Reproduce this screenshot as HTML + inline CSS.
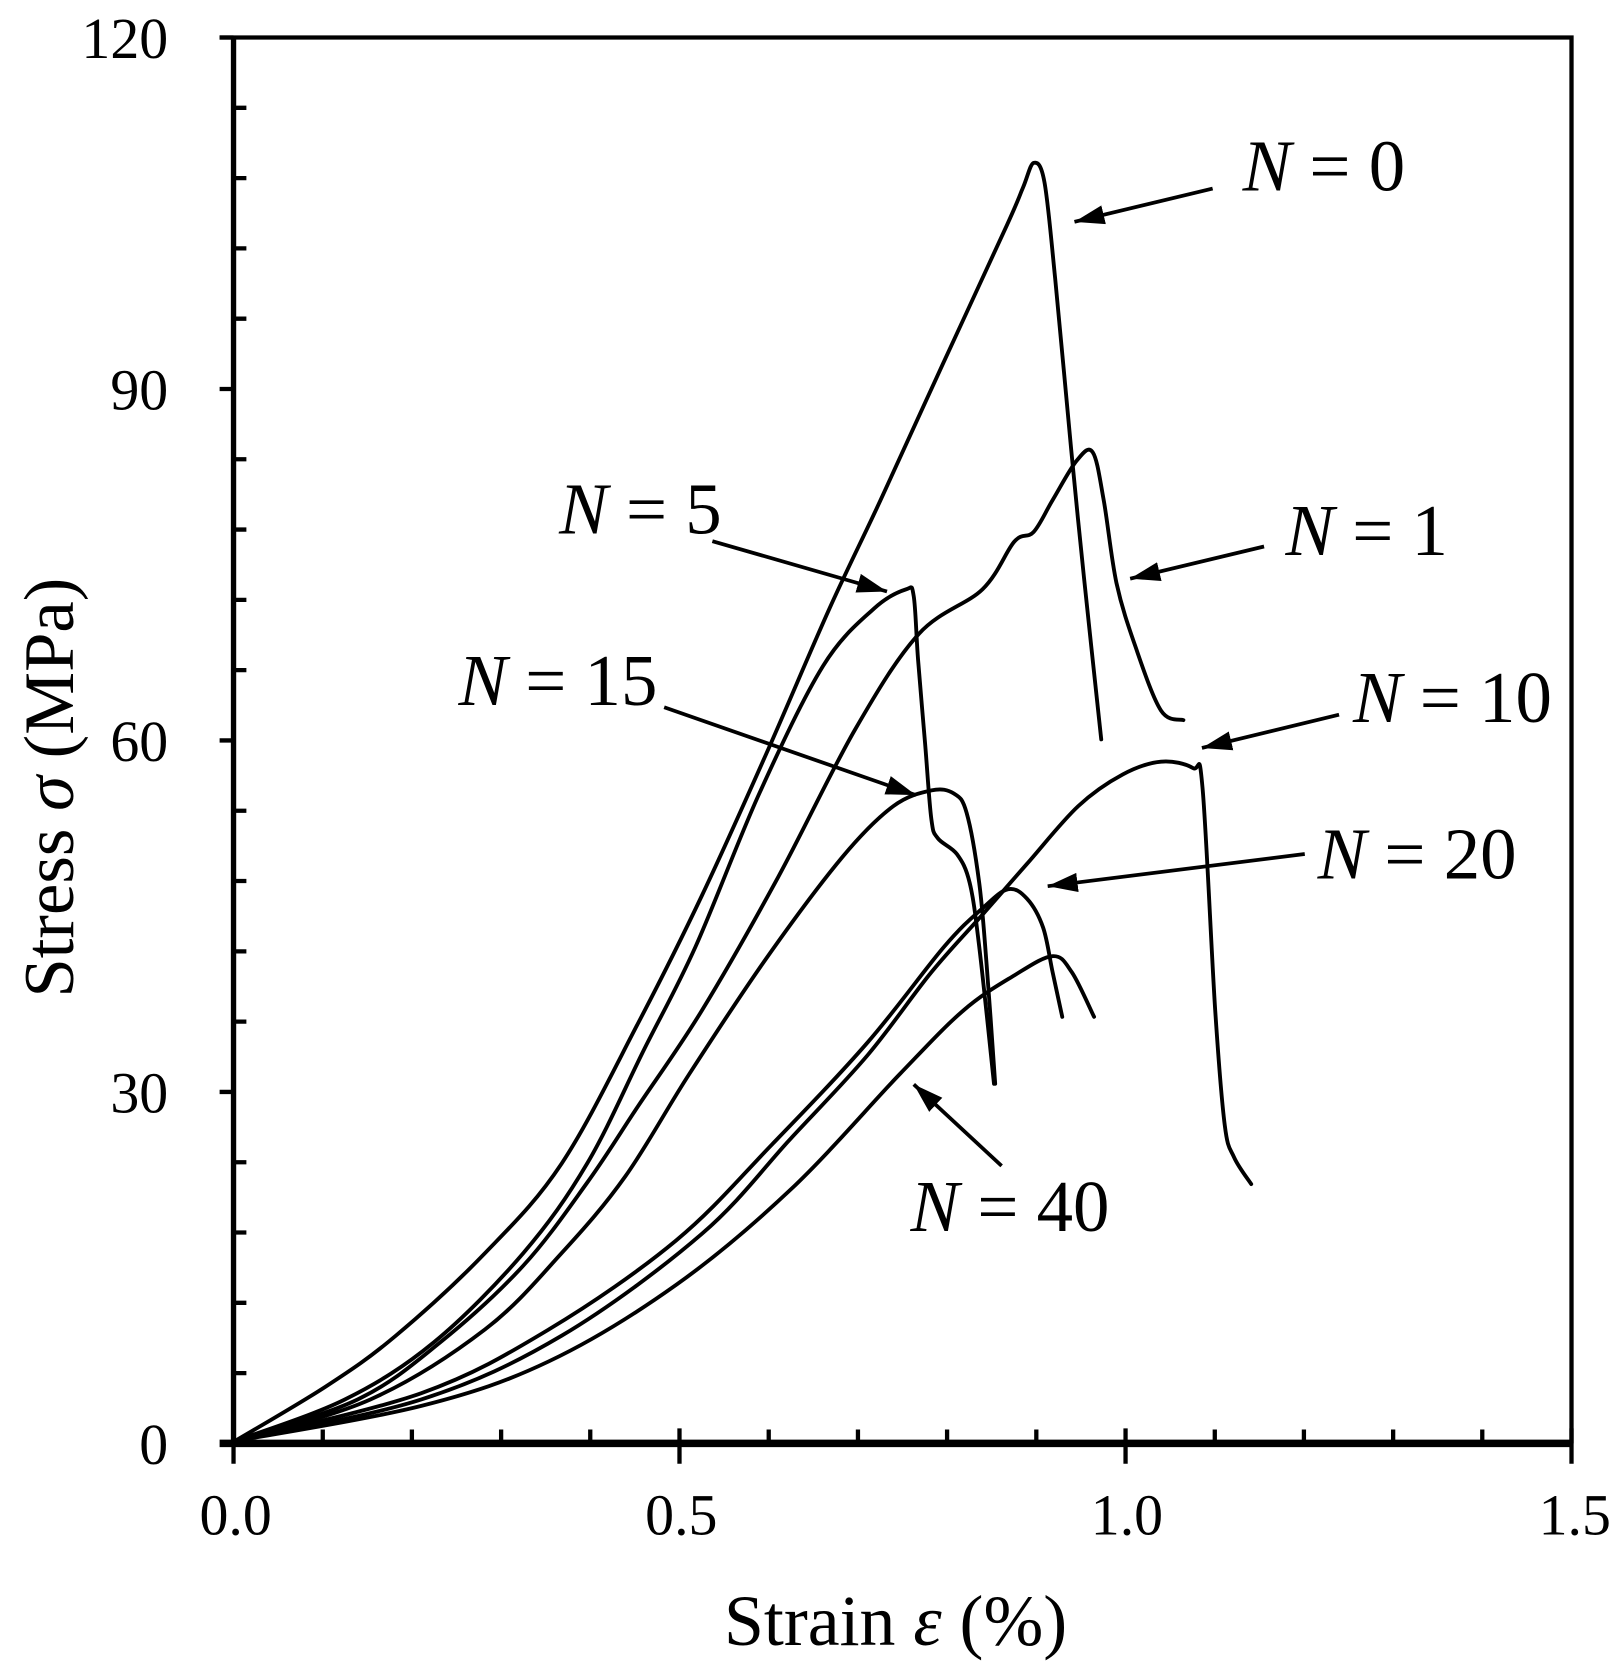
<!DOCTYPE html>
<html><head><style>html,body{margin:0;padding:0;background:#fff}svg{display:block}</style></head>
<body>
<svg id="s" width="1624" height="1677" viewBox="0 0 1516 1565" preserveAspectRatio="none" xmlns="http://www.w3.org/2000/svg" font-family="Liberation Serif, serif">
<defs>
<marker id="a" viewBox="0 0 10 10" refX="10" refY="5" markerWidth="28" markerHeight="18" markerUnits="userSpaceOnUse" orient="auto" preserveAspectRatio="none"><path d="M0,0 L10,5 L0,10 z" fill="#000"/></marker></defs>
<g stroke="#000" fill="none">
<path d="M205,35 H1467 V1347" stroke-width="4"/>
<path d="M218,35 V1347" stroke-width="5"/>
<path d="M205,1347 H1467" stroke-width="7"/>
<g stroke-width="4">
<path d="M205,35H218M205,363H218M205,691H218M205,1019H218"/>
<path d="M218,100.6h12M218,166.2h12M218,231.8h12M218,297.4h12M218,428.6h12M218,494.2h12M218,559.8h12M218,625.4h12M218,756.6h12M218,822.2h12M218,887.8h12M218,953.4h12M218,1084.6h12M218,1150.2h12M218,1215.8h12M218,1281.4h12"/>
<path d="M218,1333V1366M634.3,1333V1366M1050.7,1333V1366M1467,1333V1366"/>
<path d="M301.3,1347v-13M384.5,1347v-13M467.8,1347v-13M551,1347v-13M717.6,1347v-13M800.9,1347v-13M884.1,1347v-13M967.4,1347v-13M1134,1347v-13M1217.2,1347v-13M1300.5,1347v-13M1383.7,1347v-13"/>
</g>
<g id="curves" stroke-width="3.6" stroke-linejoin="round" stroke-linecap="round">
<path d="M219,1345 L304,1294 L369.5,1246.5 L452.8,1169.4 L524.3,1085.8 L595.7,954.8 L655.2,835.8 L714.7,704.8 L774.3,567.9 L822,466.7 L880,340 L940,210 L955,175 L965,152 L975,170 L985,260 L1000,420 L1012,540 L1028,690"/>
<path d="M219,1345 L321.9,1306 L405.2,1252.5 L488.5,1169.4 L548.1,1085.8 L601.6,978.7 L649.3,883.4 L708.8,740.5 L768.3,621.5 L815.9,567.9 L845.7,550 L852.9,556 L857,615.5 L863.5,693 L869.4,764.3 L875.4,782.2 L893.3,797.1 L905.2,823.9 L914.1,883.4 L927.9,1011.4"/>
<path d="M219,1345 L333.8,1306 L411.2,1252.5 L488.5,1181.1 L548.1,1103.7 L595.7,1032.2 L655.2,943 L726.7,818 L798.1,681 L857.6,591.7 L917.1,550 L946.9,505.4 L964.8,496.5 L982.6,466.7 L1005,430 L1020,422 L1030.3,466.7 L1042.2,544 L1060,603.6 L1083.8,663.1 L1104.7,672"/>
<path d="M219,1345 L345.7,1306 L452.8,1240.6 L524.3,1169.4 L583.8,1097.7 L643.3,1002.5 L714.7,895.3 L786.2,800 L833.8,752.4 L869.5,737.6 L890.4,740.5 L902.3,758.4 L914.1,823.9 L921,900 L929,1011.4"/>
<path d="M219,1345 L393.3,1300.1 L512.4,1240.6 L631.4,1157.4 L720.7,1068 L810,972.7 L881.4,883.4 L917.1,847.7 L941,829.8 L958.8,838.8 L973.7,865.5 L982.6,907.2 L991.6,948.9"/>
<path d="M219,1345 L393.3,1306 L524.3,1246.5 L655.2,1151.4 L738.6,1062 L810,984.6 L869.5,907.2 L917.1,853.6 L958.8,806 L1006.4,752.4 L1048.1,722.7 L1083.8,710.8 L1113.5,716.7 L1122.5,734.6 L1134.4,943 L1143.3,1050 L1152,1080 L1168,1105"/>
<path d="M219,1345 L393.3,1312 L512.4,1270.4 L631.4,1198.9 L738.6,1109.6 L839.8,1002.5 L899.3,943 L946.9,910.2 L982.6,892.3 L1000.5,907.2 L1021.3,948.9"/>
</g>
<g stroke-width="3.5" marker-end="url(#a)">
<path d="M1132,176 L1003,207"/>
<path d="M1180,510 L1055,540"/>
<path d="M665,505 L828,552"/>
<path d="M620,660 L855,742"/>
<path d="M1250,667 L1122,698"/>
<path d="M1218,797 L978,827"/>
<path d="M935,1088 L853,1012"/>
</g>
</g>
<g font-size="54" fill="#000" text-anchor="end">
<text x="157" y="54">120</text><text x="157" y="382">90</text><text x="157" y="710">60</text><text x="157" y="1038">30</text><text x="157" y="1366">0</text>
</g>
<g font-size="54" fill="#000" text-anchor="middle">
<text x="220" y="1432">0.0</text><text x="636" y="1432">0.5</text><text x="1052" y="1432">1.0</text><text x="1470" y="1432">1.5</text>
<text x="836" y="1535" font-size="67">Strain <tspan font-style="italic">ε</tspan> (%)</text>
<text transform="translate(68,735) rotate(-90)" font-size="66">Stress <tspan font-style="italic">σ</tspan> (MPa)</text>
</g>
<g font-size="68" fill="#000">
<text x="1160" y="178"><tspan font-style="italic">N</tspan> = 0</text>
<text x="1200" y="518"><tspan font-style="italic">N</tspan> = 1</text>
<text x="522" y="498"><tspan font-style="italic">N</tspan> = 5</text>
<text x="428" y="658"><tspan font-style="italic">N</tspan> = 15</text>
<text x="1263" y="674"><tspan font-style="italic">N</tspan> = 10</text>
<text x="1230" y="820"><tspan font-style="italic">N</tspan> = 20</text>
<text x="850" y="1149"><tspan font-style="italic">N</tspan> = 40</text>
</g>
</svg>
<script>
document.querySelectorAll('#curves path').forEach(function(p){
  var nums=p.getAttribute('d').match(/-?[\d.]+/g).map(Number);
  var pts=[];for(var i=0;i<nums.length;i+=2)pts.push([nums[i],nums[i+1]]);
  var d='M'+pts[0][0]+','+pts[0][1];
  for(var i=0;i<pts.length-1;i++){
    var p0=pts[i-1]||pts[i],p1=pts[i],p2=pts[i+1],p3=pts[i+2]||p2;
    var t=1/6;
    var c1=[p1[0]+(p2[0]-p0[0])*t,p1[1]+(p2[1]-p0[1])*t];
    var c2=[p2[0]-(p3[0]-p1[0])*t,p2[1]-(p3[1]-p1[1])*t];
    d+=' C'+c1[0].toFixed(1)+','+c1[1].toFixed(1)+' '+c2[0].toFixed(1)+','+c2[1].toFixed(1)+' '+p2[0]+','+p2[1];
  }
  p.setAttribute('d',d);
});
</script>
</body></html>
